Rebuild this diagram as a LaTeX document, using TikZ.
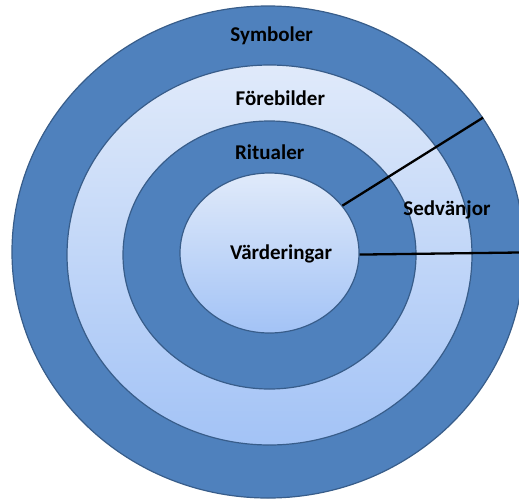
\documentclass[tikz,border=0pt]{standalone}
\usepackage{fontspec}
\setmainfont{Carlito}
\usetikzlibrary{shapes.geometric}
\definecolor{darkring}{RGB}{79,129,189}
\definecolor{ringedge}{RGB}{56,93,138}
\definecolor{lighttop}{RGB}{224,234,250}
\definecolor{lightbot}{RGB}{163,195,246}
\tikzset{
  darkband/.style={ellipse, draw=ringedge, line width=1.2pt, fill=darkring, inner sep=0pt},
  lightband/.style={ellipse, draw=ringedge, line width=1.2pt, top color=lighttop, bottom color=lightbot, inner sep=0pt},
  label/.style={font=\bfseries\fontsize{21}{24}\selectfont, text=black, anchor=base, inner sep=0pt},
  spoke/.style={draw=black, line width=2.3pt}
}
\begin{document}
\begin{tikzpicture}[x=1pt,y=-1pt]
\useasboundingbox (0,0) rectangle (519,498);
\fill[white] (0,0) rectangle (519,498);
\node[darkband, minimum width=512pt, minimum height=492pt] (outer) at (268,252) {};
\node[lightband, minimum width=405pt, minimum height=380pt] (light) at (269.5,255) {};
\node[darkband, minimum width=293pt, minimum height=268pt] (ritual) at (269.5,255) {};
\node[lightband, minimum width=179pt, minimum height=160pt] (inner) at (269.5,253) {};
\coordinate (rightend) at (519,252.5);
\draw[spoke] (inner.33.8) -- (outer.32.75);
\draw[spoke] (inner.-1) -- (rightend);
\node[label] (symb) at (271.7,41.7) {Symboler};
\node[label] (foreb) at (280.3,105) {Förebilder};
\node[label] (ritu) at (269.7,159.3) {Ritualer};
\node[label] (vard) at (281,259.3) {Värderingar};
\node[label] (sedv) at (447,215) {Sedvänjor};
\end{tikzpicture}
\end{document}
